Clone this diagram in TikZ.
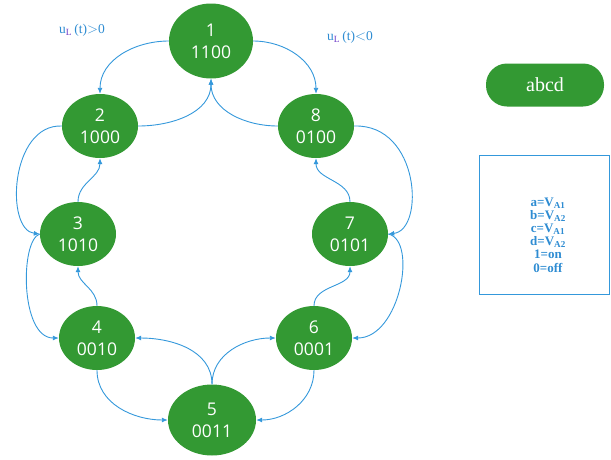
\documentclass[tikz,border=0pt]{standalone}
\usepackage{fontspec}
\setmainfont{Liberation Serif}
\newfontfamily\nodefont{Open Sans}
\usetikzlibrary{shapes.geometric,arrows.meta}
\definecolor{stgreen}{RGB}{51,153,51}
\definecolor{arblue}{RGB}{52,152,219}
\definecolor{lblue}{RGB}{46,140,210}
\definecolor{lpurple}{RGB}{110,60,200}
\tikzset{
  state/.style={ellipse, fill=stgreen, text=white, minimum width=76pt, minimum height=64pt,
    inner sep=0pt, align=center, font=\nodefont\fontsize{17.5}{22}\selectfont},
  conn/.style={draw=arblue, line width=0.9pt, -{Latex[length=6pt,width=5pt]}},
  lbl/.style={text=lblue, font=\fontsize{13.5}{15}\selectfont}
}
\begin{document}
\begin{tikzpicture}[x=1pt,y=-1pt]
\useasboundingbox (0,0) rectangle (611,459);
\node[state, minimum width=84pt, minimum height=75pt] (n1) at (211,41) {1\\1100};
\node[state] (n2) at (100,126) {2\\1000};
\node[state] (n8) at (316,126) {8\\0100};
\node[state] (n3) at (78,234) {3\\1010};
\node[state] (n7) at (350,234) {7\\0101};
\node[state] (n4) at (97,338) {4\\0010};
\node[state] (n6) at (314,338) {6\\0001};
\node[state, minimum width=88pt, minimum height=71pt] (n5) at (212,420) {5\\0011};

\node[lbl] (l1) at (82,30) {u\textsubscript{\color{lpurple}L}\,(t)$>$0};
\node[lbl] (l2) at (350,37) {u\textsubscript{\color{lpurple}L}\,(t)$<$0};

\node[fill=stgreen, text=white, rounded corners=21pt, minimum width=118pt, minimum height=43pt,
  font=\fontsize{20}{22}\selectfont] (key) at (545,85) {abcd};
\node[draw=arblue, line width=1pt, minimum width=130pt, minimum height=139pt, inner sep=0pt] (leg) at (544,224.5) {};
\node[text=lblue, align=center, font=\bfseries\fontsize{13}{13.2}\selectfont] (legt) at (548,235)
  {a=V\textsubscript{A1}\\b=V\textsubscript{A2}\\c=V\textsubscript{A1}\\d=V\textsubscript{A2}\\1=on\\0=off};

\draw[conn] (n1.west) to[out=180,in=90] (n2.north);
\draw[conn] (n1.east) to[out=0,in=90] (n8.north);
\draw[conn] (n2.east) to[out=0,in=-90] (n1.south);
\draw[conn] (n8.west) to[out=180,in=-90] (n1.south);
\draw[conn] (n2.west) .. controls (10,124) and (5,230) .. (n3.west);
\draw[conn] (n8.east) .. controls (420,124) and (425,230) .. (n7.east);
\draw[conn] (n3.north) to[out=90,in=-90] (n2.south);
\draw[conn] (n7.north) to[out=90,in=-90] (n8.south);
\draw[conn] (n3.west) .. controls (20,240) and (20,338) .. (n4.west);
\draw[conn] (n7.east) .. controls (418,240) and (400,338) .. (n6.east);
\draw[conn] (n4.north) to[out=90,in=-90] (n3.south);
\draw[conn] (n6.north) to[out=90,in=-90] (n7.south);
\draw[conn] (n4.south) to[out=-90,in=180] (n5.west);
\draw[conn] (n6.south) to[out=-90,in=0] (n5.east);
\draw[conn] (n5.north) to[out=90,in=0] (n4.east);
\draw[conn] (n5.north) to[out=90,in=180] (n6.west);
\end{tikzpicture}
\end{document}
